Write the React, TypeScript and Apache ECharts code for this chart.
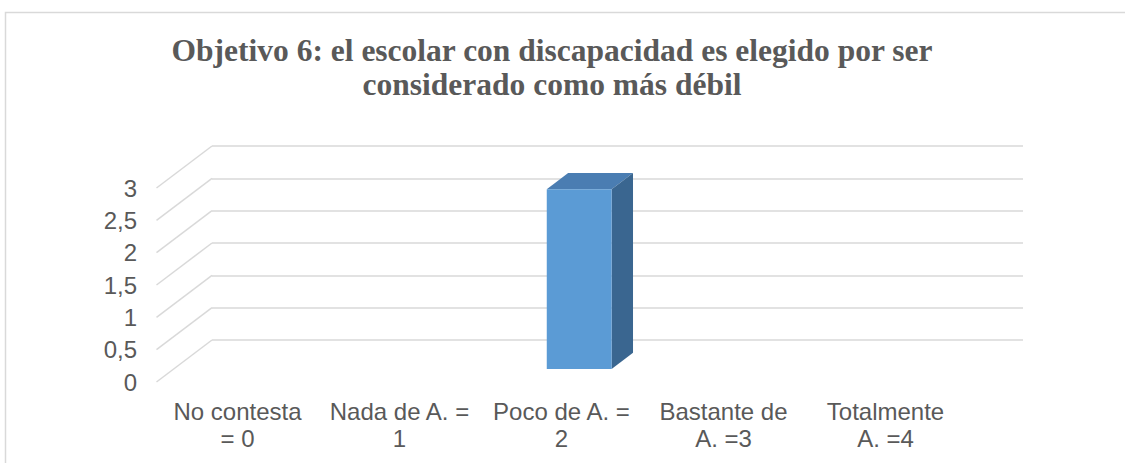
import React, { useEffect, useRef } from "react";
import * as echarts from "echarts";

// ---- data ----
const categories: string[] = [
  "No contesta\n= 0",
  "Nada de A. =\n1",
  "Poco de A. =\n2",
  "Bastante de\nA. =3",
  "Totalmente\nA. =4",
];
const values: number[] = [0, 0, 2.78, 0, 0];
const yTicks: number[] = [0, 0.5, 1, 1.5, 2, 2.5, 3];
const titleLines: string[] = [
  "Objetivo 6: el escolar con discapacidad es elegido por ser",
  "considerado como más débil",
];

// ---- styling / geometry constants ----
const DX = -55.5; // back wall -> front edge offset (x)
const DY = 42; // back wall -> front edge offset (y)
const T_BACK = 0.305; // depth fraction of bar back face (0 = back wall, 1 = front)
const T_FRONT = 0.69; // depth fraction of bar front face
const BAR_RATIO = 0.4;
const GRID_COLOR = "#d9d9d9";
const TEXT_COLOR = "#595959";
const FRONT = "#5B9BD5";
const TOP = "#4A7DB2";
const SIDE = "#3A6690";

export default function App() {
  const ref = useRef<HTMLDivElement>(null);

  useEffect(() => {
    if (!ref.current) return;
    const chart = echarts.init(ref.current, undefined, { renderer: "svg" });

    const option: any = {
      animation: false,
      backgroundColor: "#ffffff",
      graphic: [
        {
          type: "rect",
          shape: { x: 5.5, y: 12.5, width: 1140, height: 470 },
          style: { fill: "none", stroke: GRID_COLOR, lineWidth: 1.5 },
          silent: true,
          z: -10,
        },
        {
          type: "text",
          x: 552,
          y: 50,
          style: {
            text: titleLines[0],
            align: "center",
            verticalAlign: "middle",
            fill: TEXT_COLOR,
            font: "bold 31.5px 'Liberation Serif', 'Times New Roman', serif",
          },
        },
        {
          type: "text",
          x: 552,
          y: 84,
          style: {
            text: titleLines[1],
            align: "center",
            verticalAlign: "middle",
            fill: TEXT_COLOR,
            font: "bold 31.5px 'Liberation Serif', 'Times New Roman', serif",
          },
        },
      ],
      grid: [
        { left: 212, right: 102, top: 146, bottom: 123 },
        { left: 156.5, right: 158.5, top: 188, bottom: 81 },
      ],
      xAxis: [
        {
          gridIndex: 0,
          type: "category",
          data: categories,
          show: false,
        },
        {
          gridIndex: 1,
          type: "category",
          data: categories,
          axisLine: { show: false },
          axisTick: { show: false },
          axisLabel: {
            interval: 0,
            margin: 15.5,
            color: TEXT_COLOR,
            fontSize: 24,
            lineHeight: 27,
            fontFamily: "'Liberation Sans', Arial, sans-serif",
          },
        },
      ],
      yAxis: [
        {
          gridIndex: 0,
          type: "value",
          min: 0,
          max: 3,
          interval: 0.5,
          axisLine: { show: false },
          axisTick: { show: false },
          axisLabel: { show: false },
          splitLine: { show: true, lineStyle: { color: GRID_COLOR, width: 1.5 } },
        },
        {
          gridIndex: 1,
          type: "value",
          min: 0,
          max: 3,
          interval: 0.5,
          axisLine: { show: false },
          axisTick: { show: false },
          splitLine: { show: false },
          axisLabel: {
            margin: 19.5,
            color: TEXT_COLOR,
            fontSize: 24,
            fontFamily: "'Liberation Sans', Arial, sans-serif",
            formatter: (v: number) => String(v).replace(".", ","),
          },
        },
      ],
      series: [
        {
          type: "custom",
          name: "diagonals",
          xAxisIndex: 0,
          yAxisIndex: 0,
          silent: true,
          z: 1,
          data: yTicks.map((v) => [0, v]),
          renderItem: (params: any, api: any) => {
            const p = api.coord([api.value(0), api.value(1)]);
            const half = api.size([1, 0])[0] / 2;
            const x0 = p[0] - half;
            return {
              type: "line",
              shape: { x1: x0, y1: p[1], x2: x0 + DX, y2: p[1] + DY },
              style: { stroke: GRID_COLOR, lineWidth: 1.5 },
            };
          },
        },
        {
          type: "custom",
          name: "valores",
          xAxisIndex: 0,
          yAxisIndex: 0,
          z: 5,
          data: values.map((v, i) => [i, v]),
          renderItem: (params: any, api: any) => {
            const v = api.value(1);
            if (!v) return null;
            const base = api.coord([api.value(0), 0]);
            const top = api.coord([api.value(0), v]);
            const bw = api.size([1, 0])[0] * BAR_RATIO;
            const fx = base[0] + DX * T_FRONT - bw / 2;
            const fyB = base[1] + DY * T_FRONT;
            const fyT = top[1] + DY * T_FRONT;
            const bx = base[0] + DX * T_BACK - bw / 2;
            const byB = base[1] + DY * T_BACK;
            const byT = top[1] + DY * T_BACK;
            return {
              type: "group",
              children: [
                {
                  type: "polygon",
                  shape: {
                    points: [
                      [fx, fyT],
                      [fx + bw, fyT],
                      [bx + bw, byT],
                      [bx, byT],
                    ],
                  },
                  style: { fill: TOP },
                },
                {
                  type: "polygon",
                  shape: {
                    points: [
                      [fx + bw, fyT],
                      [bx + bw, byT],
                      [bx + bw, byB],
                      [fx + bw, fyB],
                    ],
                  },
                  style: { fill: SIDE },
                },
                {
                  type: "rect",
                  shape: { x: fx, y: fyT, width: bw, height: fyB - fyT },
                  style: { fill: FRONT },
                },
              ],
            };
          },
        },
        {
          type: "line",
          xAxisIndex: 1,
          yAxisIndex: 1,
          data: [],
          silent: true,
        },
      ],
    };

    chart.setOption(option);
    return () => chart.dispose();
  }, []);

  return (
    <div
      ref={ref}
      style={{ position: "fixed", left: 0, top: 0, width: 1125, height: 463 }}
    />
  );
}
